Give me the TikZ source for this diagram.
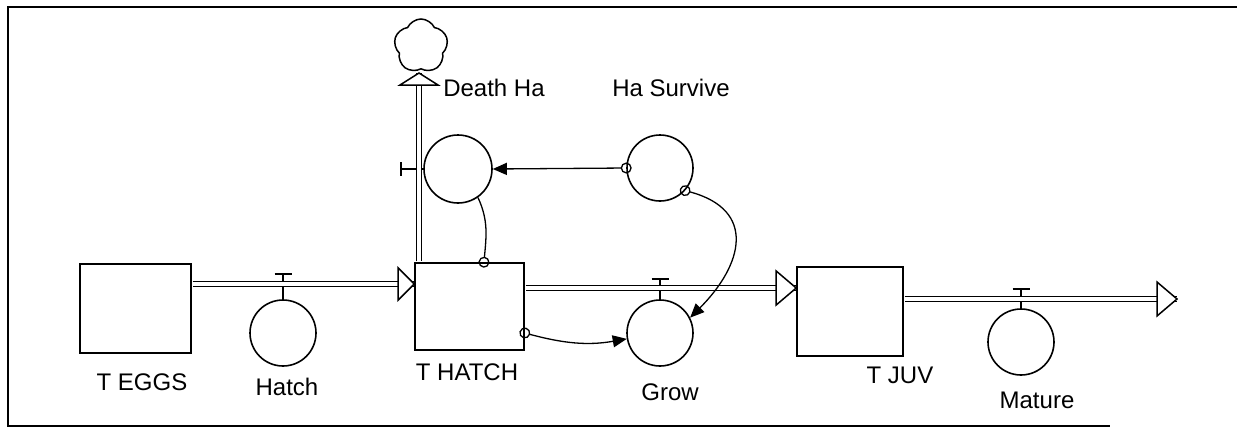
\documentclass[tikz,border=0pt]{standalone}
\usepackage{fontspec}
\setmainfont{Liberation Sans}
\usetikzlibrary{arrows.meta,shapes.symbols}

\begin{document}
\begin{tikzpicture}[x=1pt, y=-1pt,
    stock/.style={draw, line width=1.6pt, inner sep=0pt},
    aux/.style={draw, circle, line width=1.6pt, minimum size=66pt, inner sep=0pt},
    lbl/.style={font=\fontsize{24}{28}\selectfont, inner sep=0pt},
    pipe/.style={draw, line width=1.2pt, double distance=3.4pt, shorten <=0.8pt},
    pipehead/.style={draw, line width=1.5pt, fill=white, line join=miter},
    valve/.style={draw, line width=1.5pt},
    link/.style={line width=1.3pt, {Circle[open,length=11pt]}-{Triangle[length=14pt,width=12pt]}, shorten <=-5.5pt},
    tie/.style={line width=1.3pt, {Circle[open,length=11pt]}-, shorten <=-5.5pt}]
            \useasboundingbox (0,0) rectangle (1237,429);
            \draw[line width=2.6pt] (1237,7) -- (8,7) -- (8,426) -- (1110,426);

            \node[stock, minimum width=111pt, minimum height=89pt] (teggs) at (135.5,308.5) {};
            \node[stock, minimum width=109pt, minimum height=87pt] (thatch) at (469.5,306.5) {};
            \node[stock, minimum width=106pt, minimum height=89pt] (tjuv) at (850,311.5) {};
            \node[aux] (hatch) at (283,333) {};
            \node[aux] (grow) at (660,333) {};
            \node[aux] (mature) at (1021,342) {};
            \node[aux, minimum size=68pt] (deathha) at (458,169) {};
            \node[aux] (hasurvive) at (660,168) {};
            \node[cloud, cloud puffs=5, cloud puff arc=130, cloud ignores aspect, draw, line width=1.5pt, inner sep=0pt, minimum width=54pt, minimum height=54pt] (sink) at (421,46) {};

            \coordinate (hatchv) at (283,284);
            \coordinate (growv) at (660,288);
            \coordinate (maturev) at (1021,299);
            \coordinate (deathv) at (419,169);
            \coordinate (deathtip) at (419,73);
            \coordinate (outflow) at (1177,299);

            \draw[valve] (hatch.north) -- ([yshift=10pt]hatchv) coordinate (hatchbar);
            \draw[valve] ([xshift=-8.5pt]hatchbar) -- ([xshift=8.5pt]hatchbar);
            \draw[valve] (grow.north) -- ([yshift=9pt]growv) coordinate (growbar);
            \draw[valve] ([xshift=-8.5pt]growbar) -- ([xshift=8.5pt]growbar);
            \draw[valve] (mature.north) -- ([yshift=10pt]maturev) coordinate (maturebar);
            \draw[valve] ([xshift=-8.5pt]maturebar) -- ([xshift=8.5pt]maturebar);
            \draw[valve] (deathha.west) -- ([xshift=-18pt]deathv) coordinate (deathbar);
            \draw[valve] ([yshift=7pt]deathbar) -- ([yshift=-7pt]deathbar);

            \draw[pipe] (teggs.east |- hatchv) -- (thatch.west |- hatchv);
            \draw[pipehead] (thatch.west |- hatchv) -- ++(-16,-16) -- ++(0,32) -- cycle;
            \draw[pipe] (thatch.north -| deathv) -- (deathtip);
            \draw[pipehead] (deathtip) -- ++(-19,12) -- ++(38,0) -- cycle;
            \draw[pipe] (thatch.east |- growv) -- (tjuv.west |- growv);
            \draw[pipehead] (tjuv.west |- growv) -- ++(-20,-17) -- ++(0,34) -- cycle;
            \draw[pipe] (tjuv.east |- maturev) -- (outflow);
            \draw[pipehead] (outflow) -- ++(-20,-17) -- ++(0,34) -- cycle;

            \draw[link] (hasurvive.west) -- (deathha.east);
            \draw[link] (hasurvive.-42) to[out=-15, in=45, looseness=1.5] (grow.27);
            \draw[link] (thatch.east |- grow) to[out=-15, in=190] (grow.190);
            \draw[tie] ([xshift=14.5pt]thatch.north) to[out=85, in=-65] (deathha.-55);

            \node[lbl] (teggslbl) at (142,382) {T EGGS};
            \node[lbl] (hatchlbl) at (287,387) {Hatch};
            \node[lbl] (thatchlbl) at (467,372) {T HATCH};
            \node[lbl] (growlbl) at (670,392) {Grow};
            \node[lbl] (tjuvlbl) at (900,375) {T JUV};
            \node[lbl] (maturelbl) at (1037,400) {Mature};
            \node[lbl] (deathlbl) at (494,88) {Death Ha};
            \node[lbl] (survivelbl) at (671,88) {Ha Survive};
        \end{tikzpicture}
\end{document}
